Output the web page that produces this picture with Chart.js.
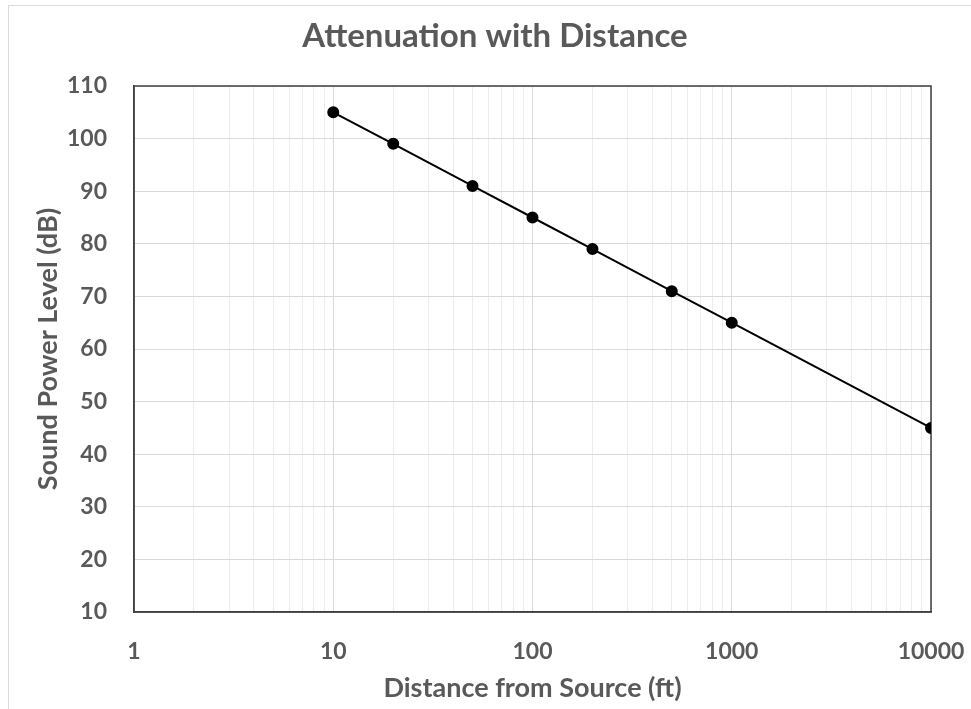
<!DOCTYPE html>
<html>
<head>
<meta charset="utf-8">
<script src="https://cdn.jsdelivr.net/npm/chart.js@4/dist/chart.umd.min.js"></script>
<style>
  html, body { margin: 0; padding: 0; background: #fff; }
  #wrap { width: 971px; height: 709px; position: relative; }
</style>
</head>
<body>
<div id="wrap"><canvas id="myChart" width="971" height="709"></canvas></div>
<script>
// data
var distances = [10, 20, 50, 100, 200, 500, 1000, 10000];
var levels = [105, 99, 91, 85, 79, 71, 65, 45];
var xDecades = [1, 10, 100, 1000, 10000];
var yTicks = [10, 20, 30, 40, 50, 60, 70, 80, 90, 100, 110];

var textColor = "#595959";
var fontFamily = "Lato, 'Open Sans', sans-serif";

function isDecade(v) {
  return xDecades.indexOf(v) !== -1;
}

// thin outer frame + dark border round the plot area
var frames = {
  id: "frames",
  beforeDraw: function (chart) {
    var c = chart.ctx;
    c.save();
    c.fillStyle = "#fff";
    c.fillRect(0, 0, chart.width, chart.height);
    c.strokeStyle = "#d9d9d9";
    c.lineWidth = 1;
    c.strokeRect(8.5, 5.5, chart.width + 10, chart.height + 10);
    c.restore();
  },
  beforeDatasetsDraw: function (chart) {
    var a = chart.chartArea;
    var c = chart.ctx;
    c.save();
    c.strokeStyle = "#404040";
    c.lineWidth = 1.5;
    c.strokeRect(a.left, a.top, a.right - a.left, a.bottom - a.top);
    c.restore();
  },
};

var ctx = document.getElementById("myChart").getContext("2d");
var myChart = new Chart(ctx, {
  type: "line",
  data: {
    datasets: [
      {
        label: "Sound Power Level",
        data: distances.map(function (d, i) {
          return { x: d, y: levels[i] };
        }),
        borderColor: "#000",
        backgroundColor: "#000",
        borderWidth: 2,
        pointRadius: 5,
        pointHoverRadius: 5,
        tension: 0,
      },
    ],
  },
  plugins: [frames],
  options: {
    responsive: false,
    animation: false,
    // left padding only centres the title like the original; the y axis pulls its title back out
    layout: { padding: { left: 59, right: 40, top: 0, bottom: 0 } },
    plugins: {
      legend: { display: false },
      tooltip: { enabled: false },
      title: {
        display: true,
        text: "Attenuation with Distance",
        color: textColor,
        font: { family: fontFamily, size: 33, weight: "bold" },
        padding: { top: 17, bottom: 29.4 },
      },
    },
    scales: {
      x: {
        type: "logarithmic",
        min: xDecades[0],
        max: xDecades[xDecades.length - 1],
        afterBuildTicks: function (scale) {
          // keep 1..9 multiples of each decade only
          scale.ticks = scale.ticks.filter(function (t) {
            var m = t.value / Math.pow(10, Math.floor(Math.log10(t.value) + 1e-9));
            return Math.abs(m - Math.round(m)) < 1e-6;
          });
        },
        afterFit: function (scale) {
          scale.height = 97;
          scale.paddingLeft = 0;
          scale.paddingRight = 0;
        },
        grid: {
          color: function (c) {
            return isDecade(c.tick && c.tick.value) ? "#d9d9d9" : "#ededed";
          },
          lineWidth: 1,
          drawTicks: false,
        },
        border: { color: "#404040", width: 1.5 },
        ticks: {
          autoSkip: false,
          maxRotation: 0,
          padding: 26,
          color: textColor,
          font: { family: fontFamily, size: 23, weight: "bold" },
          callback: function (v) {
            return isDecade(v) ? String(v) : "";
          },
        },
        title: {
          display: true,
          text: "Distance from Source (ft)",
          color: textColor,
          font: { family: fontFamily, size: 27, weight: "bold" },
          padding: { top: 0, bottom: 5 },
        },
      },
      y: {
        min: yTicks[0],
        max: yTicks[yTicks.length - 1],
        afterBuildTicks: function (scale) {
          scale.ticks = yTicks.map(function (v) {
            return { value: v };
          });
        },
        afterFit: function (scale) {
          scale.width = 75;
          scale.paddingTop = 0;
          scale.paddingBottom = 0;
        },
        grid: { color: "#d9d9d9", lineWidth: 1, drawTicks: false },
        border: { color: "#404040", width: 1.5 },
        ticks: {
          padding: 27,
          color: textColor,
          font: { family: fontFamily, size: 23, weight: "bold" },
        },
        title: {
          display: true,
          text: "Sound Power Level (dB)",
          color: textColor,
          font: { family: fontFamily, size: 27, weight: "bold" },
          padding: { top: -27, bottom: 0 },
        },
      },
    },
  },
});
</script>
</body>
</html>
